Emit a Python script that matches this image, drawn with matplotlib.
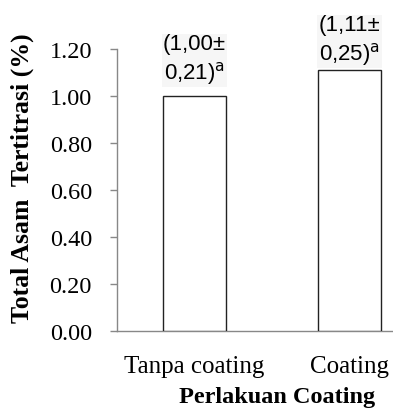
import matplotlib
matplotlib.use("Agg")
import matplotlib.pyplot as plt

# Data
categories = ["Tanpa coating", "Coating"]
means = [1.00, 1.11]
sds = [0.21, 0.25]
letters = ["a", "a"]
yticks = [0.00, 0.20, 0.40, 0.60, 0.80, 1.00, 1.20]

serif = ["Liberation Serif", "DejaVu Serif"]
sans = ["Liberation Sans", "DejaVu Sans"]

fig = plt.figure(figsize=(3.93, 4.10), dpi=100)
ax = fig.add_axes([117 / 393, 1 - 332 / 410, 310 / 393, 282 / 410])

x = list(range(len(categories)))
bars = ax.bar(x, means, width=0.406, color="white", edgecolor="#222222",
              linewidth=1.0, zorder=3)

ax.set_xlim(-0.5, 1.5)
ax.set_ylim(0, 1.2)
ax.set_yticks(yticks)
ax.set_yticklabels([f"{v:.2f}" for v in yticks], fontfamily=serif, fontsize=17.5)
ax.set_xticks(x)
ax.set_xticklabels(categories, fontfamily=serif, fontsize=18)

for side in ["top", "right"]:
    ax.spines[side].set_visible(False)
for side in ["left", "bottom"]:
    ax.spines[side].set_color("#888888")
    ax.spines[side].set_linewidth(1.0)

ax.tick_params(axis="y", direction="out", length=5, width=1.0, color="#888888",
               pad=13, labelcolor="black")
ax.tick_params(axis="x", length=0, pad=17, labelcolor="black")

# value labels above bars
offsets = [10, 3]
for xi, m, s, l, off in zip(x, means, sds, letters, offsets):
    txt = f"({m:.2f}±\n{s:.2f})$^{{\\mathrm{{{l}}}}}$".replace(".", ",")
    ax.annotate(txt, xy=(xi, m), xytext=(0, off), textcoords="offset pixels",
                ha="center", va="bottom", fontfamily=sans, fontsize=16,
                linespacing=1.28, zorder=2,
                bbox=dict(facecolor="#f6f6f6", edgecolor="none", pad=1.0),
                annotation_clip=False)

fig.text(22 / 393, 1 - 178 / 410, "Total Asam  Tertitrasi (%)", rotation=90,
         ha="center", va="center", fontfamily=serif, fontweight="bold", fontsize=18.5)
fig.text(277 / 393, 1 - 398 / 410, "Perlakuan Coating", ha="center", va="center",
         fontfamily=serif, fontweight="bold", fontsize=17.5)

fig.savefig("out.png", dpi=100)
